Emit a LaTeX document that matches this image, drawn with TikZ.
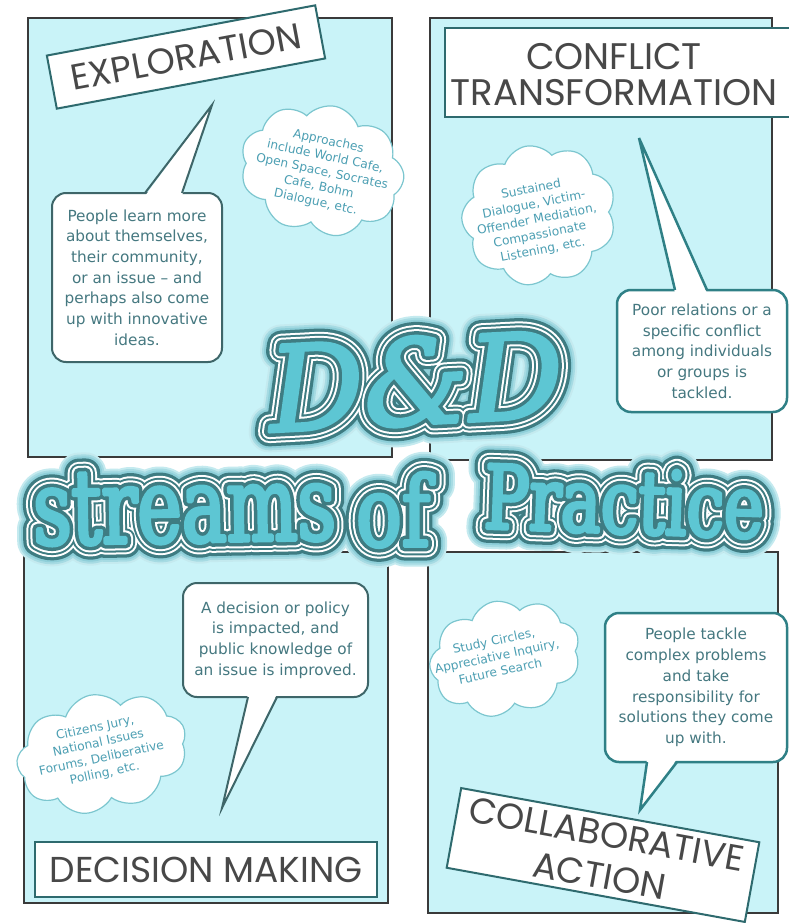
\documentclass[tikz,border=0pt]{standalone}
\usepackage{fontspec}
\setmainfont{DejaVu Sans}
\newfontfamily\labelfont{Poppins}
\newfontfamily\ddfont{DejaVu Serif Italic}
\newfontfamily\stfont{DejaVu Serif}[FakeStretch=0.72]
\newfontfamily\offont{DejaVu Serif}[FakeStretch=0.78]
\newfontfamily\prfont{DejaVu Serif}[FakeStretch=0.76]
\usetikzlibrary{shapes.symbols,calc}
\definecolor{panelfill}{HTML}{C9F3F8}
\definecolor{panelline}{HTML}{3A3A3A}
\definecolor{labelline}{HTML}{2E6A6E}
\definecolor{labeltext}{HTML}{484848}
\definecolor{bubbleline}{HTML}{3E6669}
\definecolor{bubblelineb}{HTML}{2F8086}
\definecolor{bubbletext}{HTML}{457880}
\definecolor{cloudline}{HTML}{7CC6CF}
\definecolor{cloudtext}{HTML}{4C9FB3}
\definecolor{ringdark}{HTML}{3E7C82}
\definecolor{tealfill}{HTML}{5DC6D3}
\definecolor{glowa}{HTML}{8ECFD9}
\definecolor{glowb}{HTML}{A6DBE3}
\definecolor{glowc}{HTML}{C4EAEF}
\newcommand\strokeon[1]{\special{pdf:literal direct 2 Tr #1 w 1 j 1 J}}
\newcommand\strokeoff{\special{pdf:literal direct 0 Tr}}
\tikzset{
 panel/.style={draw=panelline, line width=2.5pt, fill=panelfill},
 labelbox/.style={draw=labelline, line width=2pt, fill=white, inner sep=0pt, font=\labelfont\fontsize{36}{42}\selectfont, text=labeltext, align=center},
 labeltxt/.style={inner sep=0pt, font=\labelfont\fontsize{37}{36}\selectfont, text=labeltext, align=center},
 bubble/.style={draw=bubbleline, line width=2pt, fill=white, rounded corners=14pt, inner sep=0pt, align=center, text=bubbletext, font=\fontsize{15.3}{20.7}\selectfont},
 bubbleb/.style={bubble, draw=bubblelineb, line width=2.5pt},
 tailline/.style={draw=bubbleline, line width=2pt},
 taillineb/.style={draw=bubblelineb, line width=2.5pt},
 cloudbox/.style={cloud, cloud puffs=9, cloud puff arc=120, cloud ignores aspect, draw=cloudline, line width=1.2pt, fill=white, inner sep=0pt},
 cloudtxt/.style={inner sep=0pt, align=center, text=cloudtext, font=\fontsize{12.2}{15.5}\selectfont},
 ttl/.style={anchor=base, inner sep=0pt, outer sep=0pt},
}
% one layer of the title: #1 name suffix, #2 stroke width, #3 colour
\newcommand\ttlayer[3]{%
  \node[ttl,text=#3,rotate=3] (tdd#1) at (cdd) {\ddfont\fontsize{118}{118}\selectfont\strokeon{#2}D\&D\strokeoff};
  \node[ttl,text=#3,rotate=1] (tst#1) at (cst) {\stfont\fontsize{104}{104}\selectfont\strokeon{#2}streams\strokeoff};
  \node[ttl,text=#3] (tof#1) at (cof) {\offont\fontsize{97}{97}\selectfont\strokeon{#2}of\strokeoff};
  \node[ttl,text=#3,rotate=-2] (tpr#1) at (cpr) {\prfont\fontsize{88}{88}\selectfont\strokeon{#2}Practice\strokeoff};
}
\begin{document}
\begin{tikzpicture}[x=1pt,y=-1pt]
\useasboundingbox (0,0) rectangle (789,923);
\fill[white] (0,0) rectangle (789,923);
% panels
\draw[panel] (28,18) rectangle (392,457);
\draw[panel] (430,18) rectangle (772,460);
\draw[panel] (24,552) rectangle (388,903);
\draw[panel] (428,552) rectangle (778,913);
% clouds
\node[cloudbox, rotate=-12, minimum width=165pt, minimum height=130pt] (c1) at (322,170) {};
\node[cloudtxt, rotate=-12] (c1t) at (322,172) {Approaches\\include World Cafe,\\Open Space, Socrates\\Cafe, Bohm\\Dialogue, etc.};
\node[cloudbox, rotate=11, minimum width=155pt, minimum height=140pt] (c2) at (539,215) {};
\node[cloudtxt, rotate=11] (c2t) at (537,220) {Sustained\\Dialogue, Victim-\\Offender Mediation,\\Compassionate\\Listening, etc.};
\node[cloudbox, rotate=12, minimum width=172pt, minimum height=118pt] (c3) at (102,753) {};
\node[cloudtxt, rotate=12] (c3t) at (100,751) {Citizens Jury,\\National Issues\\Forums, Deliberative\\Polling, etc.};
\node[cloudbox, rotate=12, minimum width=152pt, minimum height=115pt] (c4) at (505,658) {};
\node[cloudtxt, rotate=12] (c4t) at (497,656) {Study Circles,\\Appreciative Inquiry,\\Future Search};
% speech bubbles
\node[bubble, minimum width=170pt, minimum height=169pt] (b1) at (137,277.5) {People learn more\\about themselves,\\their community,\\or an issue – and\\perhaps also come\\up with innovative\\ideas.};
\coordinate (b1L) at (145,193); \coordinate (b1R) at (182,193); \coordinate (b1T) at (212,105);
\fill[white] ([yshift=-3pt]b1L) -- (b1T) -- ([yshift=-3pt]b1R) -- cycle;
\draw[tailline] (b1L) -- (b1T) -- (b1R);
\node[bubbleb, minimum width=170pt, minimum height=122pt] (b2) at (702,351) {Poor relations or a\\specific conflict\\among individuals\\or groups is\\tackled.};
\coordinate (b2L) at (675,290); \coordinate (b2R) at (707,290); \coordinate (b2T) at (639,138);
\fill[white] ([yshift=-3pt]b2L) -- (b2T) -- ([yshift=-3pt]b2R) -- cycle;
\draw[taillineb] (b2L) -- (b2T) -- (b2R);
\node[bubble, minimum width=185pt, minimum height=114pt] (b3) at (275.5,640) {A decision or policy\\is impacted, and\\public knowledge of\\an issue is improved.};
\coordinate (b3L) at (248,697); \coordinate (b3R) at (277,697); \coordinate (b3T) at (222,808);
\fill[white] ([yshift=3pt]b3L) -- (b3T) -- ([yshift=3pt]b3R) -- cycle;
\draw[tailline] (b3L) -- (b3T) -- (b3R);
\node[bubbleb, minimum width=182pt, minimum height=149pt] (b4) at (696,687.5) {People tackle\\complex problems\\and take\\responsibility for\\solutions they come\\up with.};
\coordinate (b4L) at (647,762); \coordinate (b4R) at (677,762); \coordinate (b4T) at (640,810);
\fill[white] ([yshift=3pt]b4L) -- (b4T) -- ([yshift=3pt]b4R) -- cycle;
\draw[taillineb] (b4L) -- (b4T) -- (b4R);
% labels
\node[labelbox, rotate=10.6, minimum width=273pt, minimum height=54pt] (lexp) at (186,57) {EXPLORATION};
\node[labelbox, minimum width=355pt, minimum height=89pt] (lcon) at (622.5,72.5) {};
\node[labeltxt] (tcon) at (614,75) {CONFLICT\\TRANSFORMATION};
\node[labelbox, minimum width=342pt, minimum height=55pt] (ldec) at (206,869.5) {DECISION MAKING};
\node[labelbox, rotate=-10.3, minimum width=303pt, minimum height=81pt] (lcol) at (603,855) {COLLABORATIVE\\ACTION};
% title
\coordinate (cdd) at (418,424);
\coordinate (cst) at (185,542);
\coordinate (cof) at (393,546);
\coordinate (cpr) at (623,533);
\foreach \wid/\col [count=\k] in {41/glowc,37/glowb,33/glowa,29/ringdark,22.5/white,18.5/ringdark,14.5/white,10.5/ringdark} {
  \ttlayer{\k}{\wid}{\col}
}
\ttlayer{0}{3.5}{tealfill}
\end{tikzpicture}
\end{document}
